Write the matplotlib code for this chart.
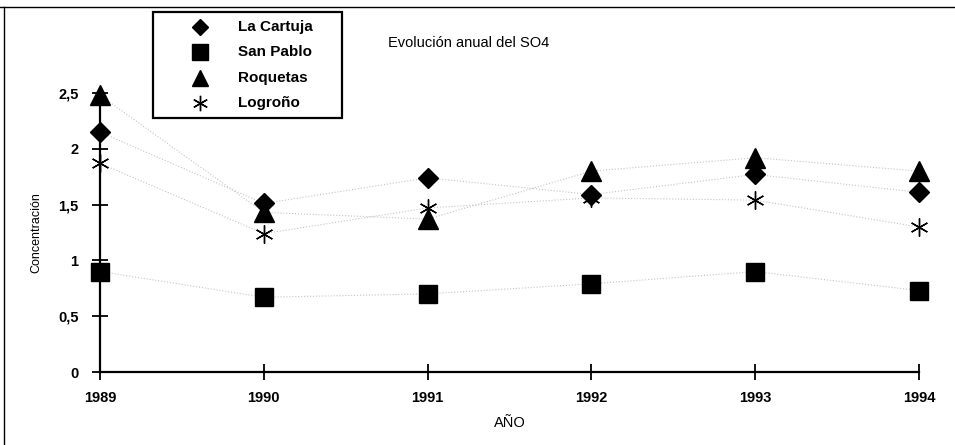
import matplotlib
matplotlib.use("Agg")
import matplotlib.pyplot as plt
from matplotlib.lines import Line2D
from matplotlib.patches import Rectangle
from matplotlib.ticker import FuncFormatter

# --- data ----------------------------------------------------------------

YEARS = [1989, 1990, 1991, 1992, 1993, 1994]
LA_CARTUJA = [2.15, 1.51, 1.74, 1.59, 1.77, 1.61]
SAN_PABLO = [0.90, 0.67, 0.70, 0.79, 0.90, 0.73]
ROQUETAS = [2.48, 1.43, 1.37, 1.80, 1.92, 1.80]
LOGRONO = [1.87, 1.24, 1.47, 1.56, 1.54, 1.30]

SERIES = [
    ("La Cartuja", LA_CARTUJA, "D", 10),
    ("San Pablo", SAN_PABLO, "s", 13),
    ("Roquetas", ROQUETAS, "^", 14),
    ("Logroño", LOGRONO, (6, 2, 0), 13),
]

Y_TICKS = [0, 0.5, 1, 1.5, 2, 2.5]

FONT = "Liberation Sans"
W, H = 955, 445


def fx(px):
    return px / W


def fy(py):
    return 1 - py / H


# --- figure --------------------------------------------------------------

fig = plt.figure(figsize=(W / 100, H / 100), dpi=100)
ax = fig.add_axes([fx(100), fy(372), 819 / W, (372 - 93) / H])

for name, vals, marker, ms in SERIES:
    # faint dotted trend line, as in the scanned original
    ax.plot(YEARS, vals, color="#c4c4c4", linestyle=":", linewidth=0.8,
            zorder=2, clip_on=False)
    ax.plot(YEARS, vals, linestyle="none", marker=marker, markersize=ms,
            color="black", markeredgecolor="black", markeredgewidth=1.0,
            zorder=4, clip_on=False)

ax.set_xlim(1989, 1994)
ax.set_ylim(0, 2.5)
ax.set_xticks(YEARS)
ax.set_yticks(Y_TICKS)
ax.yaxis.set_major_formatter(FuncFormatter(lambda v, _: f"{v:g}".replace(".", ",")))

for side in ["top", "right"]:
    ax.spines[side].set_visible(False)
for side in ["left", "bottom"]:
    ax.spines[side].set_linewidth(1.6)
    ax.spines[side].set_color("black")

ax.tick_params(axis="both", direction="inout", length=11, width=1.3,
               colors="black", labelsize=10.5)
ax.tick_params(axis="x", pad=8)
ax.tick_params(axis="y", pad=10)
for lbl in ax.get_xticklabels() + ax.get_yticklabels():
    lbl.set_fontfamily(FONT)
    lbl.set_fontweight("bold")

ax.set_xlabel("AÑO", fontfamily=FONT, fontsize=10.5, labelpad=8)
ax.set_ylabel("Concentración", fontfamily=FONT, fontsize=9, labelpad=11)

fig.text(fx(388), fy(43), "Evolución anual del SO4", fontfamily=FONT,
         fontsize=10.5, ha="left", va="center")

# legend, drawn by hand to match the boxed layout of the original
fig.add_artist(Rectangle((fx(153), fy(118)), fx(342) - fx(153), fy(12) - fy(118),
                         transform=fig.transFigure, facecolor="white",
                         edgecolor="black", linewidth=1.6, zorder=5))
for i, (name, _, marker, ms) in enumerate(SERIES):
    y = fy(27 + i * 25.3)
    fig.add_artist(Line2D([fx(200)], [y], transform=fig.transFigure,
                          linestyle="none", marker=marker, markersize=ms * 0.85,
                          color="black", markeredgewidth=1.0, zorder=6))
    fig.text(fx(238), y, name, fontfamily=FONT, fontweight="bold",
             fontsize=11, ha="left", va="center", zorder=6)

# partial chart-area border (top and left)
fig.add_artist(Line2D([0, 1], [fy(7)] * 2, transform=fig.transFigure,
                      color="black", linewidth=1.0))
fig.add_artist(Line2D([fx(4)] * 2, [0, fy(7)], transform=fig.transFigure,
                      color="black", linewidth=1.0))

fig.savefig("out.png", dpi=100)
